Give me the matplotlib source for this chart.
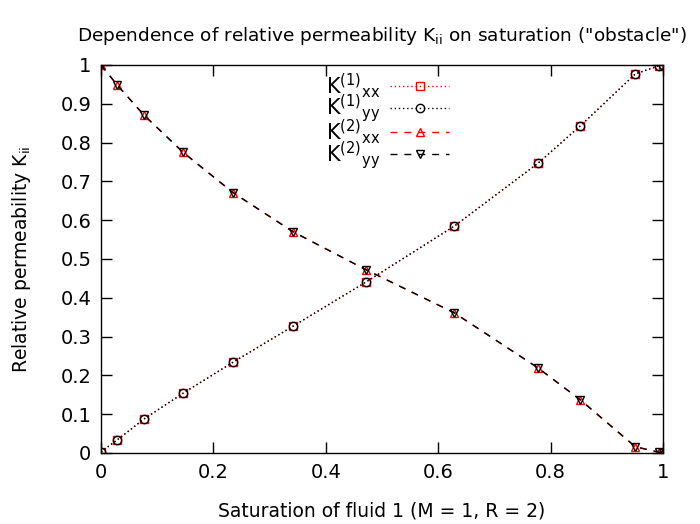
import numpy as np
import matplotlib
matplotlib.use("Agg")
import matplotlib.pyplot as plt

# saturation of fluid 1
sat = [0.0, 0.029, 0.077, 0.146, 0.235, 0.342, 0.472, 0.629, 0.778, 0.853, 0.951, 0.993, 1.0]

# relative permeabilities
k1_xx = [0.003, 0.034, 0.088, 0.154, 0.234, 0.327, 0.441, 0.585, 0.747, 0.843, 0.977, 0.998, 1.0]
k1_yy = [0.003, 0.034, 0.088, 0.154, 0.234, 0.327, 0.441, 0.585, 0.747, 0.843, 0.977, 0.998, 1.0]
k2_xx = [1.0, 0.948, 0.870, 0.775, 0.671, 0.570, 0.472, 0.361, 0.219, 0.137, 0.016, 0.002, 0.0]
k2_yy = [1.0, 0.948, 0.870, 0.775, 0.671, 0.570, 0.472, 0.361, 0.219, 0.137, 0.016, 0.002, 0.0]

xticks = [0, 0.2, 0.4, 0.6, 0.8, 1]
xtick_labels = ["0", "0.2", "0.4", "0.6", "0.8", "1"]
yticks = [0, 0.1, 0.2, 0.3, 0.4, 0.5, 0.6, 0.7, 0.8, 0.9, 1]
ytick_labels = ["0", "0.1", "0.2", "0.3", "0.4", "0.5", "0.6", "0.7", "0.8", "0.9", "1"]

plt.rcParams["font.family"] = "DejaVu Sans"
plt.rcParams["mathtext.default"] = "regular"

fig = plt.figure(figsize=(7.0, 5.24), dpi=100)
ax = fig.add_axes([0.1443, 0.1355, 0.8027, 0.7405])

dot = (0, (1, 2))
dash = (0, (5, 5))
ax.plot(sat, k1_xx, color="red", linestyle=dot, linewidth=1, marker="s",
        markersize=6, markerfacecolor="none", markeredgewidth=1,
        label=r"$K^{(1)}{}_{xx}$")
ax.plot(sat, k1_yy, color="black", linestyle=dot, linewidth=1, marker="o",
        markersize=6, markerfacecolor="none", markeredgewidth=1,
        label=r"$K^{(1)}{}_{yy}$")
ax.plot(sat, k2_xx, color="red", linestyle=dash, linewidth=1, marker="^",
        markersize=6, markerfacecolor="none", markeredgewidth=1,
        label=r"$K^{(2)}{}_{xx}$")
ax.plot(sat, k2_yy, color="black", linestyle=dash, linewidth=1, marker="v",
        markersize=6, markerfacecolor="none", markeredgewidth=1,
        label=r"$K^{(2)}{}_{yy}$")

ax.set_xlim(0, 1)
ax.set_ylim(0, 1)
ax.set_xticks(xticks)
ax.set_xticklabels(xtick_labels)
ax.set_yticks(yticks)
ax.set_yticklabels(ytick_labels)
ax.tick_params(direction="in", length=8, width=1, top=True, right=True,
               labelsize=14, pad=7)
for s in ax.spines.values():
    s.set_linewidth(1)

ax.set_title(r'Dependence of relative permeability $K_{ii}$ on saturation ("obstacle")',
             fontsize=13.3, pad=17)
ax.set_xlabel("Saturation of fluid 1 (M = 1, R = 2)", fontsize=13.5, labelpad=14)
ax.set_ylabel(r"Relative permeability $K_{ii}$", fontsize=13.5, labelpad=20)

ax.legend(loc="upper left", bbox_to_anchor=(0.40, 0.985), frameon=False,
          markerfirst=False, numpoints=1, handlelength=2.8, fontsize=15,
          labelspacing=-0.35, handletextpad=0.5, borderpad=0,
          borderaxespad=0)

fig.savefig("out.png", dpi=100)
